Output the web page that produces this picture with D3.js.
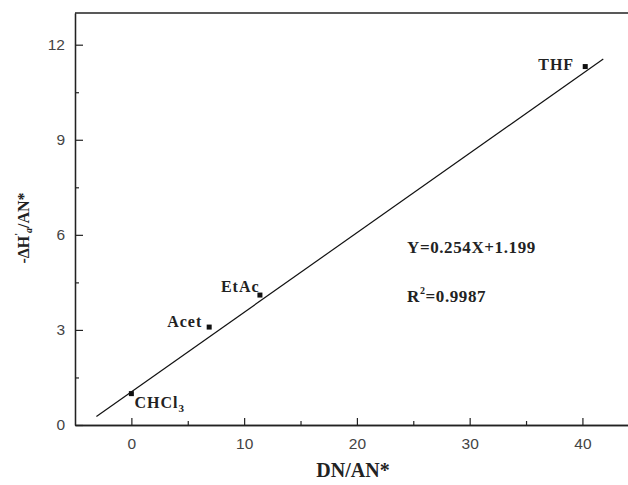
<!DOCTYPE html>
<html>
<head>
<meta charset="utf-8">
<script src="https://cdn.jsdelivr.net/npm/d3@7"></script>
<style>
  body { margin: 0; background: #fff; }
  svg { display: block; }
  .tick text { font-family: "Liberation Sans", Arial, sans-serif; font-size: 15.5px; fill: #444; }
  .lbl { font-family: "Liberation Serif", "Times New Roman", serif; font-weight: bold; fill: #222; }
</style>
</head>
<body>
<div id="chart"></div>
<script>
// solvents (DN/AN*, -dHa'/AN*)
const solvents = ["CHCl3", "Acet", "EtAc", "THF"];
const dnAn = [0, 6.9, 11.4, 40.25];
const hAn = [0.99, 3.09, 4.1, 11.31];

// fitted line as drawn (end points)
const fitX = [-3.1, 41.85];
const fitY = [0.27, 11.55];

const xTicks = [0, 10, 20, 30, 40];
const xMinor = [5, 15, 25, 35];
const yTicks = [0, 3, 6, 9, 12];
const yMinor = [1.5, 4.5, 7.5, 10.5];

const width = 628, height = 485;
const mLeft = 75, mTop = 13, mBottom = 425;

const svg = d3.select("#chart").append("svg")
  .attr("width", width)
  .attr("height", height);

const x = d3.scaleLinear().domain([-5, 45]).range([mLeft, 638.8]);
const y = d3.scaleLinear().domain([0, 13]).range([mBottom, mTop]);

//axes, ticks pointing inward
svg.append("g")
  .attr("transform", `translate(0,${mBottom})`)
  .call(d3.axisBottom(x).tickValues(xTicks).tickSizeInner(-7).tickSizeOuter(0).tickPadding(13));
svg.append("g")
  .attr("transform", `translate(0,${mBottom})`)
  .call(d3.axisBottom(x).tickValues(xMinor).tickSizeInner(-4).tickSizeOuter(0).tickFormat(""));

svg.append("g")
  .attr("transform", `translate(${mLeft},0)`)
  .call(d3.axisLeft(y).tickValues(yTicks).tickSizeInner(-8).tickSizeOuter(0).tickPadding(10));
svg.append("g")
  .attr("transform", `translate(${mLeft},0)`)
  .call(d3.axisLeft(y).tickValues(yMinor).tickSizeInner(-4).tickSizeOuter(0).tickFormat(""));

svg.selectAll(".domain").attr("stroke", "#222").attr("stroke-width", 1.3);
svg.selectAll(".tick line").attr("stroke", "#222").attr("stroke-width", 1.2);

// top frame line
svg.append("line")
  .attr("x1", mLeft).attr("x2", width)
  .attr("y1", y(13)).attr("y2", y(13))
  .attr("stroke", "#222").attr("stroke-width", 1.3);

// fit line
svg.append("line")
  .attr("x1", x(fitX[0])).attr("y1", y(fitY[0]))
  .attr("x2", x(fitX[1])).attr("y2", y(fitY[1]))
  .attr("stroke", "#111").attr("stroke-width", 1.2);

// points
svg.selectAll("rect.pt")
  .data(solvents)
  .join("rect")
  .attr("class", "pt")
  .attr("x", (d, i) => x(dnAn[i]) - 2.5)
  .attr("y", (d, i) => y(hAn[i]) - 2.5)
  .attr("width", 5)
  .attr("height", 5)
  .attr("fill", "#111");

// point labels (offsets from the marker)
const labelOff = {
  CHCl3: [3, 14],
  Acet: [-42, 0],
  EtAc: [-39, -3],
  THF: [-47, 3],
};
solvents.forEach((s, i) => {
  const t = svg.append("text")
    .attr("class", "lbl")
    .attr("x", x(dnAn[i]) + labelOff[s][0])
    .attr("y", y(hAn[i]) + labelOff[s][1])
    .attr("font-size", 16)
    .attr("letter-spacing", 1);
  if (s === "CHCl3") {
    t.append("tspan").text("CHCl");
    t.append("tspan").attr("font-size", 11).attr("dy", 4).text("3");
  } else {
    t.text(s);
  }
});

// equation
svg.append("text")
  .attr("class", "lbl")
  .attr("x", 407).attr("y", 253)
  .attr("font-size", 17)
  .attr("letter-spacing", 0.6)
  .text("Y=0.254X+1.199");

const r2 = svg.append("text")
  .attr("class", "lbl")
  .attr("x", 407).attr("y", 302)
  .attr("font-size", 17)
  .attr("letter-spacing", 0.6);
r2.append("tspan").text("R");
r2.append("tspan").attr("font-size", 10).attr("dy", -8).text("2");
r2.append("tspan").attr("dy", 8).text("=0.9987");

// axis titles
svg.append("text")
  .attr("class", "lbl")
  .attr("x", 353).attr("y", 477)
  .attr("text-anchor", "middle")
  .attr("font-size", 20)
  .text("DN/AN*");

const yt = svg.append("text")
  .attr("class", "lbl")
  .attr("transform", "translate(29,228) rotate(-90)")
  .attr("text-anchor", "middle")
  .attr("font-size", 16);
yt.append("tspan").text("-ΔH");
yt.append("tspan").attr("font-size", 10).attr("dy", -7).text("'");
yt.append("tspan").attr("font-size", 10).attr("font-style", "italic").attr("dy", 10).text("a");
yt.append("tspan").attr("dy", -3).text("/AN*");
</script>
</body>
</html>
